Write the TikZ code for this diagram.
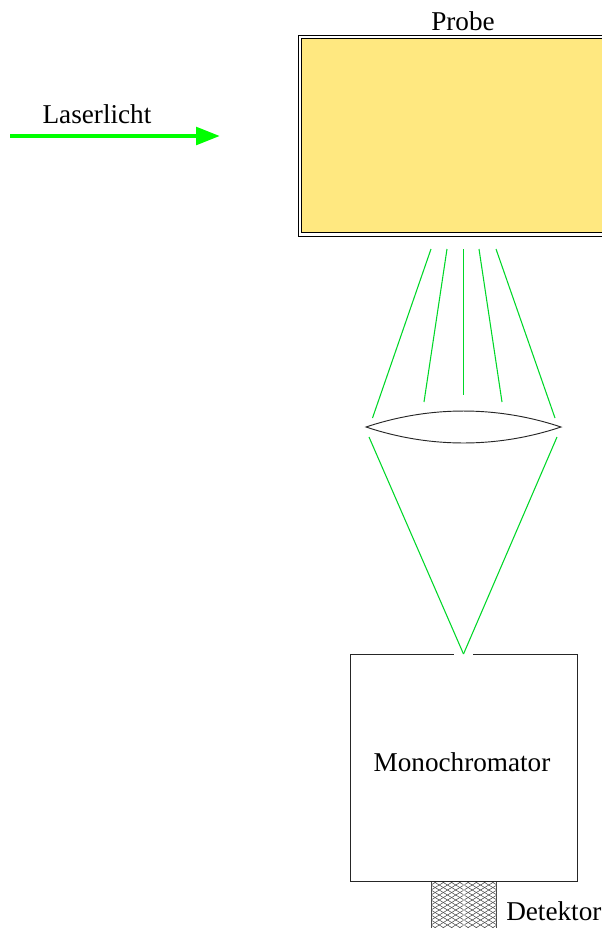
\documentclass[tikz,border=0pt]{standalone}
\usepackage{fontspec}
\setmainfont{Liberation Serif}
\usetikzlibrary{arrows.meta}
\definecolor{probefill}{RGB}{255,232,128}
\definecolor{raygreen}{RGB}{0,215,40}
\tikzset{
  x=0.75pt,y=-0.75pt,
  ray/.style={draw=raygreen,line width=0.8pt},
  outline/.style={draw=black!85,line width=0.7pt},
  lbl/.style={inner sep=0pt,font=\fontsize{20.4pt}{24pt}\selectfont,text=black},
  hatchline/.style={draw=black!70,line width=0.4pt},
  laser/.style={draw=green,line width=3.3pt,-{Triangle[length=18pt,width=13pt,fill=green]}}
}
\begin{document}
\begin{tikzpicture}
\useasboundingbox (0,0) rectangle (602,928);
\begin{scope}
\clip (0,0) rectangle (602,928);
% sample
\draw[draw=black,line width=0.7pt] (298,35) rectangle (640,236);
\draw[draw=black,fill=probefill,line width=0.9pt] (301.5,38.5) rectangle (640,232.8);
% detector hatching
\begin{scope}
\clip (431,881) rectangle (463.4,928);
\foreach \k in {-12,...,40}{
  \draw[hatchline] (431,{870+\k*5}) -- ++(33,20);
  \draw[hatchline] (431,{870+\k*5}) -- ++(33,-20);
}
\end{scope}
\begin{scope}
\clip (464.6,881) rectangle (496,928);
\foreach \k in {-12,...,40}{
  \draw[hatchline] (464,{870+\k*5}) -- ++(33,20);
  \draw[hatchline] (464,{870+\k*5}) -- ++(33,-20);
}
\end{scope}
\draw[draw=black!70,line width=0.7pt] (431,881) -- (431,928);
\draw[draw=black!70,line width=0.7pt] (496,881) -- (496,928);
\end{scope}
% named points
\coordinate (boxTL) at (350,654);
\coordinate (boxTR) at (577,654);
\coordinate (boxBL) at (350,881);
\coordinate (boxBR) at (577,881);
\coordinate (slitL) at (453.5,654);
\coordinate (slitR) at (473,654);
\coordinate (focus) at (463.5,654);
\coordinate (lensL) at (366,427);
\coordinate (lensR) at (561,427);
\coordinate (laserA) at (10,136);
\coordinate (laserB) at (220,136);
% monochromator
\draw[outline] (slitL) -- (boxTL) -- (boxBL) -- (boxBR) -- (boxTR) -- (slitR);
% lens
\draw[outline] (lensL) .. controls (430,405.7) and (497,405.7) .. (lensR)
               .. controls (497,448.3) and (430,448.3) .. (lensL) -- cycle;
% rays
\coordinate (r1a) at (431,249); \coordinate (r1b) at (372.5,418);
\coordinate (r2a) at (447,249); \coordinate (r2b) at (424,402);
\coordinate (r3a) at (463.5,249); \coordinate (r3b) at (463.5,395);
\coordinate (r4a) at (479,249); \coordinate (r4b) at (502,402);
\coordinate (r5a) at (496,249); \coordinate (r5b) at (555,418);
\coordinate (r6a) at (369,437); \coordinate (r7a) at (557,437);
\foreach \s/\e in {r1a/r1b,r2a/r2b,r3a/r3b,r4a/r4b,r5a/r5b,r6a/focus,r7a/focus}
  \draw[ray] (\s) -- (\e);
% laser
\draw[laser] (laserA) -- (laserB);
% labels
\node[lbl] (probe) at (463,21) {Probe};
\node[lbl] (laserlabel) at (97,114) {Laserlicht};
\node[lbl] (mono) at (462,762) {Monochromator};
\node[lbl,anchor=west] (det) at (506,911) {Detektor};
\end{tikzpicture}
\end{document}
